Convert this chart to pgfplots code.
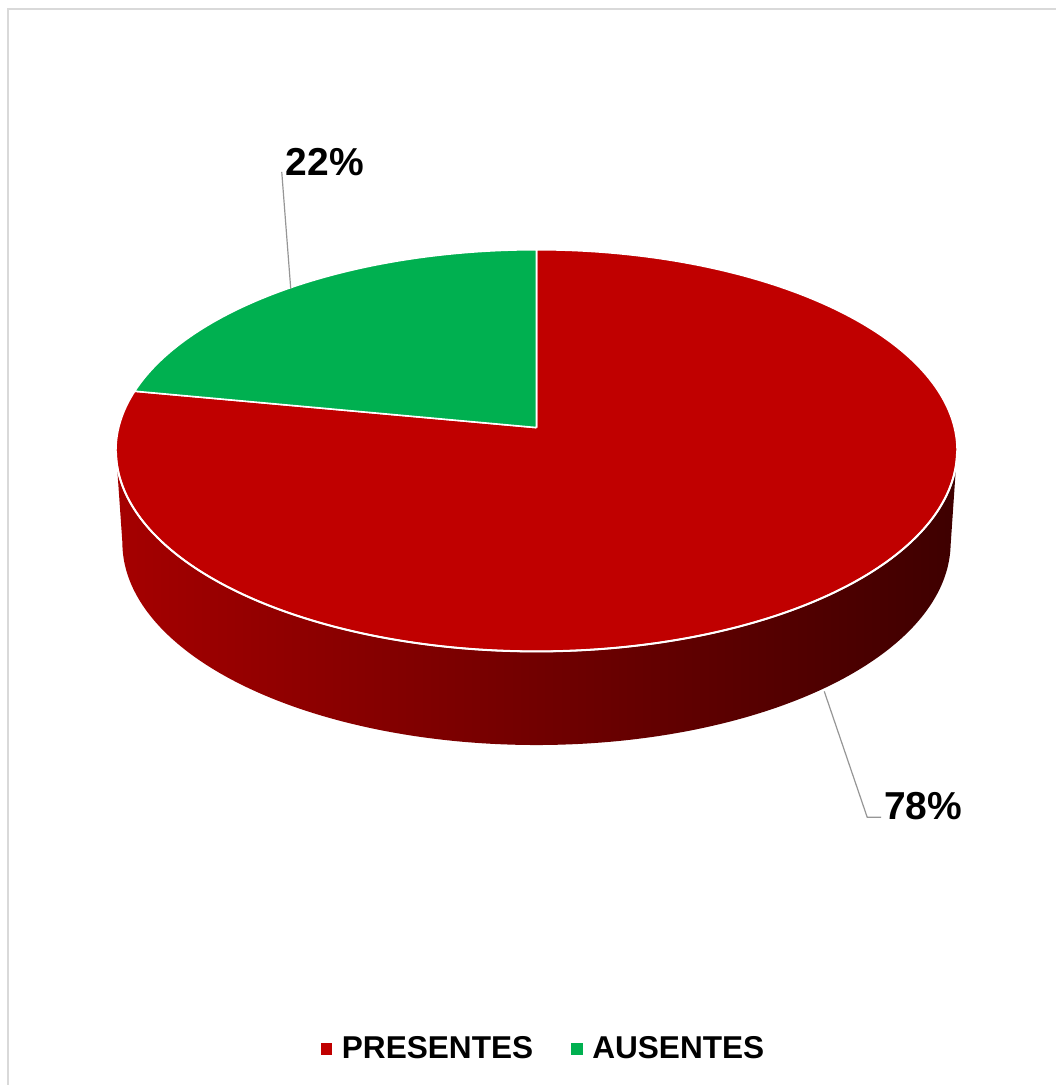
\documentclass[border=0pt]{standalone}
\usepackage{pgfplots}
\usepackage{pgfplotstable}
\pgfplotsset{compat=1.18}
\usepackage{fontspec}
\setmainfont{Liberation Sans}
\definecolor{topred}{RGB}{192,0,0}
\definecolor{topgreen}{RGB}{0,176,80}
\definecolor{sideL}{RGB}{165,0,0}
\definecolor{sideM}{RGB}{112,0,0}
\definecolor{sideR}{RGB}{62,0,0}
\definecolor{frame}{RGB}{217,217,217}
\definecolor{leader}{RGB}{150,150,150}

\pgfplotstableread{
label value
PRESENTES 78
AUSENTES 22
}\piedata

\begin{document}
\begin{tikzpicture}
\pgfplotstablegetelem{0}{value}\of\piedata \edef\vP{\pgfplotsretval}
\pgfplotstablegetelem{1}{value}\of\piedata \edef\vA{\pgfplotsretval}
\pgfmathsetmacro\gB{90+3.6*\vA}
\pgfmathsetmacro\gBi{int(ceil(\gB))}
\pgfmathsetmacro\gBii{int(\gBi+1)}
\begin{axis}[x=0.5pt, y=0.5pt, xmin=0, xmax=1057, ymin=0, ymax=1086,
  axis lines=none, scale only axis, clip=false,
  declare function={
    topX(\t)=537+418.2*cos(\t)/(1+0.1144*sin(\t));
    topY(\t)=658+198.4*sin(\t)/(1+0.1144*sin(\t));
    botX(\t)=537+412*cos(\t)/(1+0.11*sin(\t));
    botY(\t)=565+200*sin(\t)/(1+0.11*sin(\t));
  },
  legend columns=2,
  legend style={at={(0.5156,0.0331)}, anchor=center, draw=none, fill=none,
    font=\bfseries\fontsize{15.8}{18}\selectfont,
    /tikz/every odd column/.append style={column sep=3pt},
    /tikz/every even column/.append style={column sep=17pt}},
  legend cell align=left]
\path (axis cs:0,0) rectangle (axis cs:1057,1086);
% frame
\addplot[frame, line width=1pt, forget plot] coordinates {(8,0) (8,1077) (1057,1077)};
% side of the pie
\addplot[draw=none, left color=sideL, middle color=sideM, right color=sideR, domain=0:2, samples=401, forget plot]
 ({x<=1 ? topX(186.57+166.86*x) : botX(353.68-167.36*(x-1))},
  {x<=1 ? topY(186.57+166.86*x) : botY(353.68-167.36*(x-1))});
% red slice (PRESENTES)
\addplot[fill=topred, draw=white, line width=0.8pt, forget plot, samples at={-1,\gB,\gBi,\gBii,...,450,-1}]
 ({x<0 ? 537 : topX(x)}, {x<0 ? 658 : topY(x)});
% green slice (AUSENTES)
\addplot[fill=topgreen, draw=white, line width=0.8pt, forget plot, samples at={-1,90,91,...,169,\gB,-1}]
 ({x<0 ? 537 : topX(x)}, {x<0 ? 658 : topY(x)});
% front edge highlight
\addplot[white, line width=1pt, domain=186.57:353.43, samples=181, forget plot]
 ({topX(x)}, {topY(x)});
% leader lines
\addplot[leader, line width=0.6pt, forget plot] coordinates {(291,797) (282,914)};
\addplot[leader, line width=0.6pt, forget plot] coordinates {(825,394) (868,268) (882,268)};
\node[font=\bfseries\fontsize{19.5}{22}\selectfont, anchor=center] at (axis cs:325,924) {\vA\%};
\node[font=\bfseries\fontsize{19.5}{22}\selectfont, anchor=center] at (axis cs:924,279) {\vP\%};
% legend
\addlegendimage{legend image code/.code={\fill[topred] (0pt,-2.6pt) rectangle (5.2pt,2.6pt);}}
\addlegendentry{PRESENTES}
\addlegendimage{legend image code/.code={\fill[topgreen] (0pt,-2.6pt) rectangle (5.2pt,2.6pt);}}
\addlegendentry{AUSENTES}
\end{axis}
\end{tikzpicture}
\end{document}
